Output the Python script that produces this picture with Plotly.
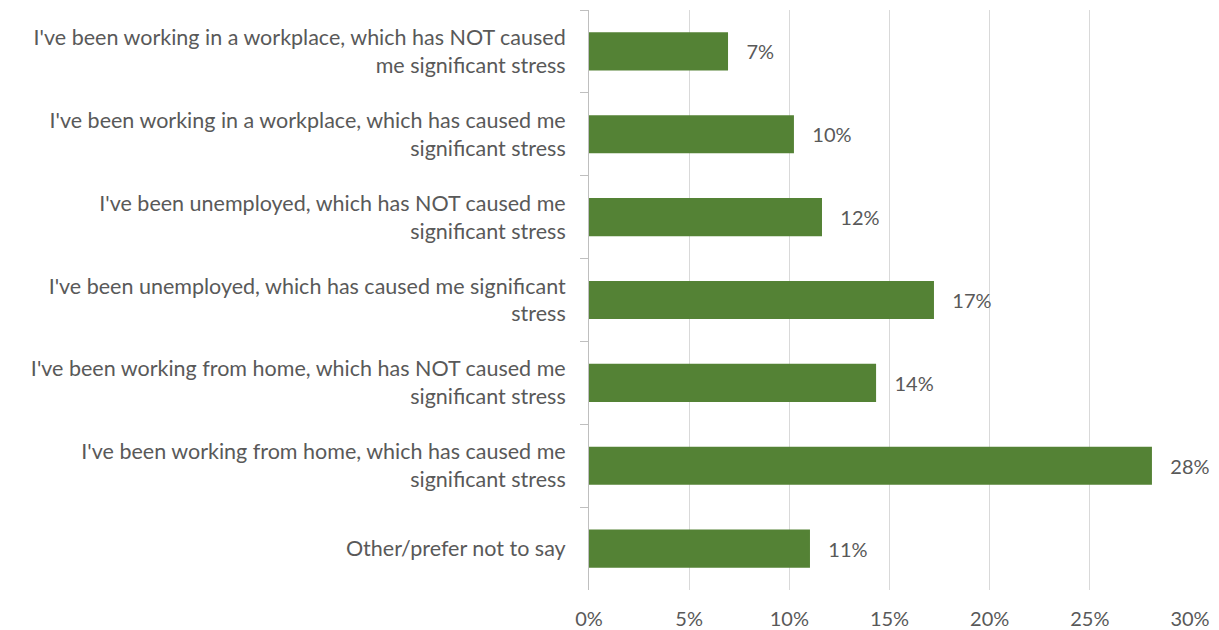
import plotly.graph_objects as go

# Survey answers, top to bottom as in the chart
categories = [
    "I've been working in a workplace, which has NOT caused<br>me significant stress",
    "I've been working in a workplace, which has caused me<br>significant stress",
    "I've been unemployed, which has NOT caused me<br>significant stress",
    "I've been unemployed, which has caused me significant<br>stress",
    "I've been working from home, which has NOT caused me<br>significant stress",
    "I've been working from home, which has caused me<br>significant stress",
    "Other/prefer not to say",
]
shares = [0.0694, 0.1023, 0.1163, 0.1722, 0.1433, 0.2810, 0.1103]
x_ticks = [0, 0.05, 0.10, 0.15, 0.20, 0.25, 0.30]

font_family = "Lato, Liberation Sans, sans-serif"
text_grey = "#595959"

fig = go.Figure()
fig.add_trace(go.Bar(
    x=shares,
    y=categories,
    orientation="h",
    marker=dict(color="#548235", line=dict(width=0)),
    width=0.46,
    texttemplate="   %{x:.0%}",
    textposition="outside",
    textfont=dict(family=font_family, size=20, color=text_grey),
    cliponaxis=False,
    hoverinfo="skip",
))

fig.update_layout(
    width=1219,
    height=630,
    margin=dict(l=589, r=29, t=10, b=40),
    plot_bgcolor="white",
    paper_bgcolor="white",
    showlegend=False,
    font=dict(family=font_family, size=20, color=text_grey),
    xaxis=dict(
        range=[0, 0.30],
        tickvals=x_ticks,
        tickformat=".0%",
        showgrid=True,
        gridcolor="#d9d9d9",
        gridwidth=1,
        zeroline=False,
        showline=False,
        ticks="",
        automargin=False,
        ticklabelstandoff=15,
        tickfont=dict(size=20, color=text_grey),
    ),
    yaxis=dict(
        autorange="reversed",
        showline=True,
        linecolor="#bfbfbf",
        linewidth=1,
        ticks="outside",
        tickson="boundaries",
        ticklen=8,
        tickcolor="#bfbfbf",
        showgrid=False,
        automargin=False,
        ticklabelstandoff=18,
        tickfont=dict(size=21.5, color=text_grey),
    ),
)

# drop the browser's default page margin so the figure sits at the corner
fig.write_html(
    "out.html",
    config={"displayModeBar": False},
    post_script="document.body.style.margin = '0';",
)
